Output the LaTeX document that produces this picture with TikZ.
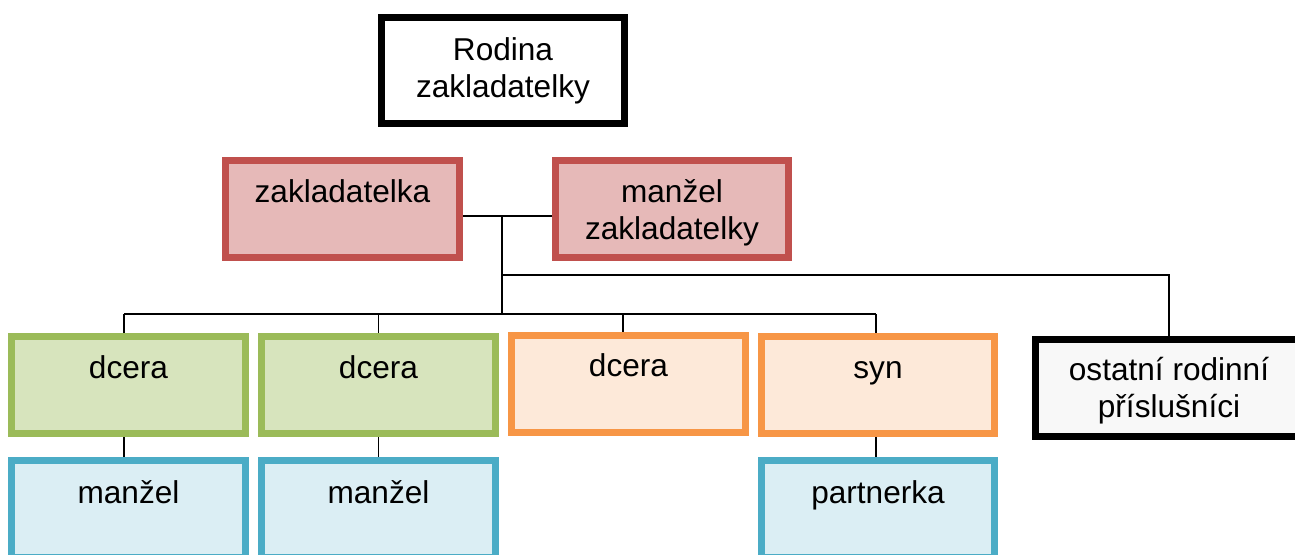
\documentclass[tikz,border=0pt]{standalone}
\usepackage{fontspec}
\setmainfont{Liberation Sans}
\definecolor{redline}{HTML}{C0504D}
\definecolor{redfill}{HTML}{E6B9B8}
\definecolor{greenline}{HTML}{9BBB59}
\definecolor{greenfill}{HTML}{D7E4BD}
\definecolor{orangeline}{HTML}{F79646}
\definecolor{orangefill}{HTML}{FDE9D9}
\definecolor{blueline}{HTML}{4BACC6}
\definecolor{bluefill}{HTML}{DBEEF4}
\definecolor{greyfill}{HTML}{F8F8F8}
\newcommand{\bxt}[1]{\parbox[t]{220pt}{\centering #1}}
\tikzset{
  box/.style={rectangle, inner sep=0pt, line width=7pt,
    text height=41.5pt, text depth=55.5pt, minimum height=97pt,
    font=\fontsize{31.6}{37}\selectfont},
  redbox/.style={box, draw=redline, fill=redfill},
  greenbox/.style={box, draw=greenline, fill=greenfill},
  orangebox/.style={box, draw=orangeline, fill=orangefill},
  bluebox/.style={box, draw=blueline, fill=bluefill},
  blackbox/.style={box, draw=black, fill=#1},
  conn/.style={draw=black, line width=1.8pt},
}
\begin{document}
\begin{tikzpicture}[x=1pt,y=-1pt]
\clip (0,0) rectangle (1295,554);
\fill[white] (0,0) rectangle (1295,554);
% top
\node[blackbox=white, minimum width=243pt, minimum height=106pt, text height=42.5pt, text depth=63.5pt] (root) at (503,70.5) {\bxt{Rodina\\zakladatelky}};
% founders
\node[redbox, minimum width=234pt] (zak) at (342.5,209) {\bxt{zakladatelka}};
\node[redbox, minimum width=233pt] (mz) at (672,209) {\bxt{manžel\\zakladatelky}};
% children
\node[greenbox, minimum width=234pt] (d1) at (128.5,385) {\bxt{dcera}};
\node[greenbox, minimum width=234pt] (d2) at (378.5,385) {\bxt{dcera}};
\node[orangebox, minimum width=234pt, text height=40.5pt, text depth=56.5pt] (d3) at (628.5,384) {\bxt{dcera}};
\node[orangebox, minimum width=233pt] (syn) at (878,385) {\bxt{syn}};
\node[blackbox=greyfill, minimum width=267pt, text height=40.5pt, text depth=56.5pt] (ost) at (1169,388) {\bxt{ostatní rodinní\\příslušníci}};
% partners
\node[bluebox, minimum width=234pt, text height=42.5pt, text depth=54.5pt] (m1) at (128.5,509) {\bxt{manžel}};
\node[bluebox, minimum width=234pt, text height=42.5pt, text depth=54.5pt] (m2) at (378.5,509) {\bxt{manžel}};
\node[bluebox, minimum width=233pt, text height=42.5pt, text depth=54.5pt] (m3) at (878,509) {\bxt{partnerka}};
% connectors
\coordinate (j) at (502,216);
\coordinate (r) at (502,275);
\coordinate (b) at (502,314);
\coordinate (b1) at (124,314);
\coordinate (b2) at (378.5,314);
\coordinate (b3) at (623,314);
\coordinate (b4) at (876,314);
\draw[conn] (zak.east |- j) -- (mz.west |- j);
\draw[conn] (j) -- (b);
\draw[conn] (r) -| (ost.north);
\draw[conn] (b1) -- (b4);
\draw[conn] (b1) -- (b1 |- d1.north);
\draw[conn] (b2) -- (b2 |- d2.north);
\draw[conn] (b3) -- (b3 |- d3.north);
\draw[conn] (b4) -- (b4 |- syn.north);
\draw[conn] (b1 |- d1.south) -- (b1 |- m1.north);
\draw[conn] (b2 |- d2.south) -- (b2 |- m2.north);
\draw[conn] (b4 |- syn.south) -- (b4 |- m3.north);
\end{tikzpicture}
\end{document}
